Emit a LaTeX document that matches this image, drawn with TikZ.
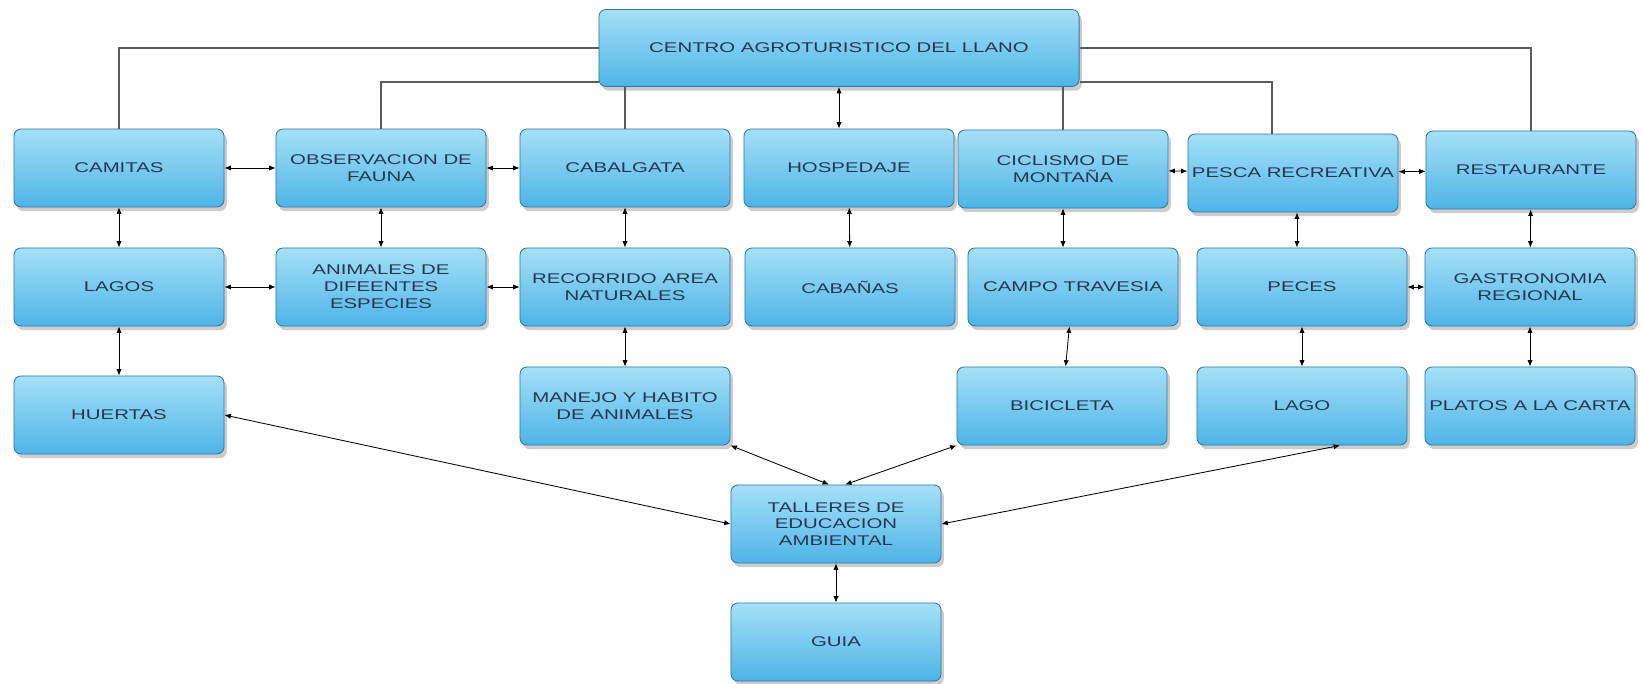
\documentclass[tikz,border=0pt]{standalone}
\usepackage{fontspec}
\setmainfont{Liberation Sans}[FakeStretch=1.45]
\usetikzlibrary{positioning,arrows.meta,shadows}

\definecolor{borde}{RGB}{45,120,165}
\definecolor{arriba}{RGB}{165,224,247}
\definecolor{medio}{RGB}{105,198,240}
\definecolor{abajo}{RGB}{78,180,230}
\definecolor{letra}{RGB}{35,55,85}
\definecolor{gris}{RGB}{90,90,90}

\tikzset{
  caja/.style={draw=borde, line width=0.6pt, rounded corners=5pt,
    top color=arriba, middle color=medio, bottom color=abajo,
    text=letra, align=center, inner xsep=0pt,
    minimum width=5.25cm, minimum height=1.95cm,
    font=\fontsize{10}{12}\selectfont,
    drop shadow={shadow xshift=2pt, shadow yshift=-3pt, opacity=0.4}},
  flecha/.style={{Latex[length=1.6mm,width=1.3mm]}-{Latex[length=1.6mm,width=1.3mm]}, line width=0.6pt},
  linea/.style={draw=gris, line width=0.8pt}
}

\begin{document}
\begin{tikzpicture}[x=0.025cm, y=-0.025cm]
    \useasboundingbox (0,0) rectangle (1641,683);
    % raiz
    \node[caja, minimum width=12cm, minimum height=1.925cm] (centro) at (839,48) {CENTRO AGROTURISTICO DEL LLANO};
    % fila 1
    \node[caja] (camitas) at (119,168) {CAMITAS};
    \node[caja] (obs) at (381,168) {OBSERVACION DE\\FAUNA};
    \node[caja] (cabalgata) at (625,168) {CABALGATA};
    \node[caja] (hospedaje) at (849,168) {HOSPEDAJE};
    \node[caja] (ciclismo) at (1063,169) {CICLISMO DE\\MONTAÑA};
    \node[caja] (pesca) at (1293,173) {PESCA RECREATIVA};
    \node[caja] (restaurante) at (1531,170) {RESTAURANTE};
    % fila 2
    \node[caja] (lagos) at (119,287) {LAGOS};
    \node[caja] (animales) at (381,287) {ANIMALES DE\\DIFEENTES\\ESPECIES};
    \node[caja] (recorrido) at (625,287) {RECORRIDO AREA\\NATURALES};
    \node[caja] (cabanas) at (850,287) {CABAÑAS};
    \node[caja] (campo) at (1073,287) {CAMPO TRAVESIA};
    \node[caja] (peces) at (1302,287) {PECES};
    \node[caja] (gastro) at (1530,287) {GASTRONOMIA\\REGIONAL};
    % fila 3
    \node[caja] (huertas) at (119,415) {HUERTAS};
    \node[caja] (manejo) at (625,406) {MANEJO Y HABITO\\DE ANIMALES};
    \node[caja] (bicicleta) at (1062,406) {BICICLETA};
    \node[caja] (lago) at (1302,406) {LAGO};
    \node[caja] (platos) at (1530,406) {PLATOS A LA CARTA};
    % abajo
    \node[caja] (talleres) at (836,524) {TALLERES DE\\EDUCACION\\AMBIENTAL};
    \node[caja] (guia) at (836,642) {GUIA};

    % lineas desde la raiz
    \draw[linea] (centro.west) -| (camitas.north);
    \draw[linea] (centro.west |- 0,82) -| (obs.north);
    \draw[linea] (centro.south -| cabalgata.north) -- (cabalgata.north);
    \draw[linea] (centro.south -| ciclismo.north) -- (ciclismo.north);
    \draw[linea] (centro.east |- 0,82) -| ([xshift=-0.525cm]pesca.north);
    \draw[linea] (centro.east) -| (restaurante.north);
    \draw[flecha] (centro.south) -- (centro.south |- hospedaje.north);

    % flechas
    \foreach \a/\b in {camitas/obs, obs/cabalgata, ciclismo/pesca, pesca/restaurante,
                       lagos/animales, animales/recorrido, peces/gastro,
                       camitas/lagos, lagos/huertas, obs/animales, cabalgata/recorrido,
                       recorrido/manejo, hospedaje/cabanas, campo/bicicleta,
                       peces/lago, restaurante/gastro, gastro/platos,
                       talleres/guia}
        \draw[flecha] (\a) -- (\b);
    \draw[flecha] (ciclismo.south) -- (ciclismo.south |- campo.north);
    \draw[flecha] ([xshift=0.1cm]pesca.south) -- ([xshift=0.1cm]pesca.south |- peces.north);
    \draw[flecha] (huertas.east) -- (talleres.west);
    \draw[flecha] (manejo.south east) -- ([xshift=-0.175cm]talleres.north);
    \draw[flecha] (bicicleta.south west) -- ([xshift=0.225cm]talleres.north);
    \draw[flecha] ([xshift=0.95cm]lago.south) -- (talleres.east);
\end{tikzpicture}
\end{document}
